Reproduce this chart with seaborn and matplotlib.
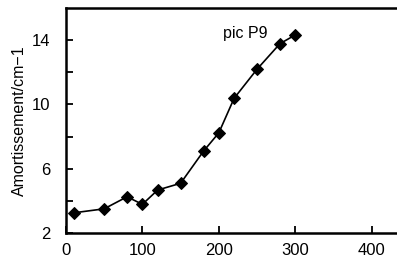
import numpy as np
import pandas as pd
import matplotlib
matplotlib.use("Agg")
import matplotlib.pyplot as plt
import seaborn as sns

# donnees
temperature = [10, 50, 80, 100, 120, 150, 180, 200, 220, 250, 280, 300]
amortissement = [3.25, 3.5, 4.25, 3.78, 4.67, 5.09, 7.09, 8.23, 10.38, 12.19, 13.78, 14.32]
x_ticks = [0, 100, 200, 300, 400]
y_ticks = [2, 6, 10, 14]
y_minor = [4, 8, 12]

df = pd.DataFrame({"T": temperature, "A": amortissement})

sns.set_style("ticks", {"axes.edgecolor": "black", "xtick.color": "black",
                        "ytick.color": "black", "text.color": "black",
                        "axes.labelcolor": "black"})
plt.rcParams['font.family'] = ['Liberation Sans', 'DejaVu Sans']

fig = plt.figure(figsize=(3.97, 2.65), dpi=100)
ax = fig.add_axes([0.166, 0.121, 0.834, 0.849])

sns.lineplot(data=df, x="T", y="A", ax=ax, color="black", lw=1.2,
             marker="D", markersize=6, markeredgecolor="black")

ax.set_xlim(0, 433)
ax.set_ylim(2, 16)
ax.set_xticks(x_ticks)
ax.set_yticks(y_ticks)
ax.set_yticks(y_minor, minor=True)
ax.tick_params(axis="both", which="both", direction="in", length=5, width=1.3,
               labelsize=12, colors="black")
ax.tick_params(axis="y", pad=11)
ax.tick_params(axis="x", pad=7)
ax.spines["right"].set_visible(False)
for s in ["left", "bottom", "top"]:
    ax.spines[s].set_linewidth(1.8)
    ax.spines[s].set_color("black")

ax.set_xlabel("")
ax.set_ylabel("Amortissement/cm\u22121", fontsize=11.5, labelpad=4, color="black")
ax.text(206, 14.4, "pic P9", fontsize=11.5, ha="left", va="center", color="black")

fig.savefig("out.png", dpi=100)
